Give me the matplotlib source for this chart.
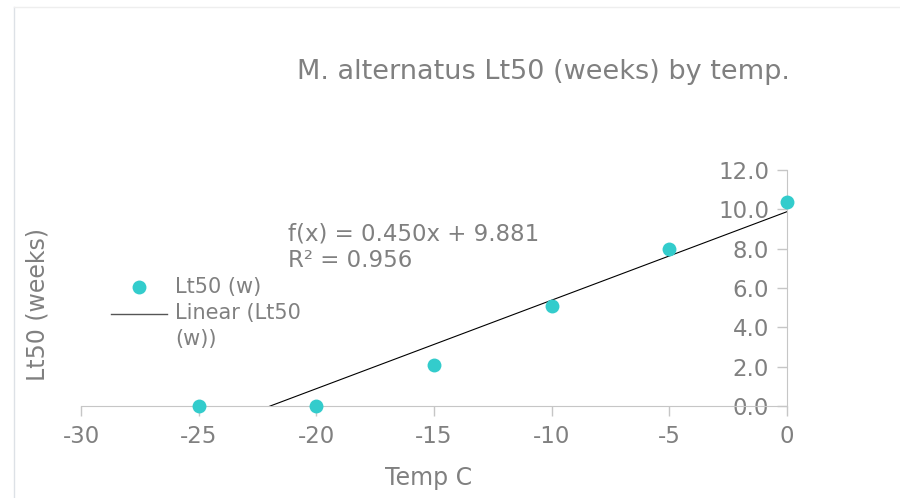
import numpy as np
import matplotlib
matplotlib.use('Agg')
import matplotlib.pyplot as plt
from matplotlib.lines import Line2D

# data
temps = [-25, -20, -15, -10, -5, 0]
lt50_weeks = [0.0, 0.0, 2.08, 5.06, 7.96, 10.38]

# trendline shown on the chart
fit_slope = 0.450
fit_intercept = 9.881
fit_r2 = 0.956

x_ticks = [-30, -25, -20, -15, -10, -5, 0]
y_ticks = [0, 2, 4, 6, 8, 10, 12]

GRAY_TEXT = '#808080'
GRAY_LINE = '#c6c6c6'
TEAL = '#33CCCC'

plt.rcParams['font.family'] = 'DejaVu Sans'

fig = plt.figure(figsize=(9, 4.98), dpi=100)
ax = fig.add_axes([81 / 900, 92 / 498, 706 / 900, 236 / 498])

# trendline
xs = np.array([-30, 0])
ax.plot(xs, fit_slope * xs + fit_intercept, color='black', linewidth=0.8)

# points
ax.plot(temps, lt50_weeks, linestyle='none', marker='o', markersize=10,
        color=TEAL, markeredgewidth=0, clip_on=False, zorder=5)

ax.set_xlim(-30, 0)
ax.set_ylim(0, 12)
ax.set_xticks(x_ticks)
ax.set_xticklabels([str(t) for t in x_ticks])
ax.set_yticks(y_ticks)
ax.set_yticklabels([f'{t:.1f}' for t in y_ticks])

for side in ['top', 'right']:
    ax.spines[side].set_visible(False)
ax.spines['left'].set_position(('data', 0))
ax.spines['left'].set_color(GRAY_LINE)
ax.spines['bottom'].set_color(GRAY_LINE)
ax.tick_params(axis='both', colors=GRAY_LINE, labelcolor=GRAY_TEXT,
               labelsize=16.5, length=7, width=1)
ax.tick_params(axis='x', pad=7)
ax.tick_params(axis='y', pad=6)

# labels / title
fig.text(543 / 900, 1 - 72 / 498, 'M. alternatus Lt50 (weeks) by temp.',
         ha='center', va='center', fontsize=19.5, color=GRAY_TEXT)
fig.text(429 / 900, 1 - 478 / 498, 'Temp C', ha='center', va='center',
         fontsize=17, color=GRAY_TEXT)
fig.text(38 / 900, 1 - 304 / 498, 'Lt50 (weeks)', ha='center', va='center',
         rotation=90, fontsize=17, color=GRAY_TEXT)

# equation
fig.text(288 / 900, 1 - 234 / 498, f'f(x) = {fit_slope:.3f}x + {fit_intercept:.3f}',
         ha='left', va='center', fontsize=16.5, color=GRAY_TEXT)
fig.text(288 / 900, 1 - 260 / 498, f'R² = {fit_r2:.3f}',
         ha='left', va='center', fontsize=16.5, color=GRAY_TEXT)

# legend, drawn by hand so the line sits on the first text row
fig.add_artist(Line2D([139 / 900], [1 - 287 / 498], marker='o', markersize=10,
                      color=TEAL, markeredgewidth=0, transform=fig.transFigure))
fig.text(175 / 900, 1 - 287 / 498, 'Lt50 (w)', ha='left', va='center',
         fontsize=15, color=GRAY_TEXT)
fig.add_artist(Line2D([111 / 900, 167 / 900], [1 - 314 / 498, 1 - 314 / 498],
                      color='#555555', linewidth=1, transform=fig.transFigure))
fig.text(175 / 900, 1 - 303 / 498, 'Linear (Lt50\n(w))', ha='left', va='top',
         fontsize=15, color=GRAY_TEXT, linespacing=1.35)

# light outer frame (top and left edges)
fig.add_artist(Line2D([14 / 900, 14 / 900], [0, 1 - 7 / 498], color='#dde1e6',
                      linewidth=1, transform=fig.transFigure))
fig.add_artist(Line2D([14 / 900, 1], [1 - 7 / 498, 1 - 7 / 498], color='#eeeeee',
                      linewidth=1, transform=fig.transFigure))

fig.savefig('out.png', dpi=100)
